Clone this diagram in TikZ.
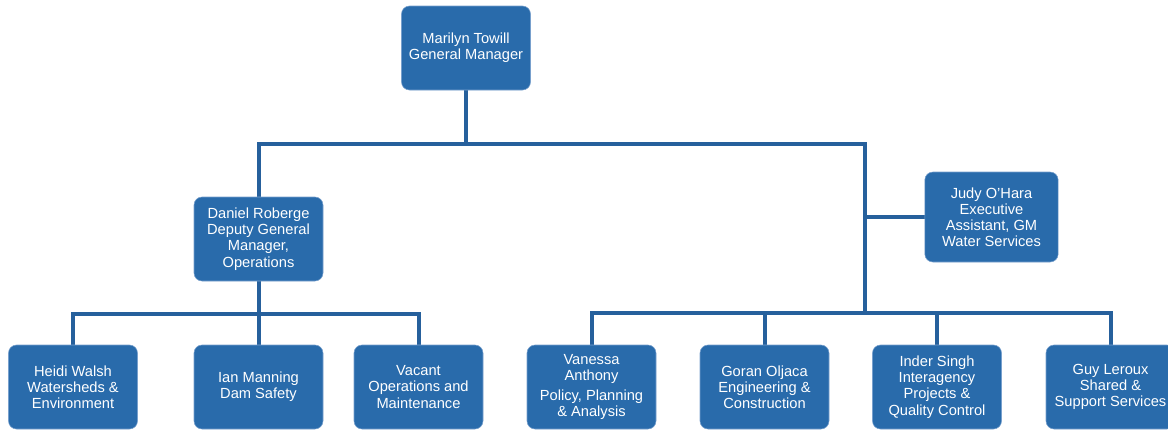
\documentclass[tikz,border=0pt]{standalone}
\usepackage{fontspec}
\setmainfont{Liberation Sans}
\usepackage{xcolor}
\usepackage{tikz}
\usetikzlibrary{positioning,backgrounds}
\definecolor{boxblue}{RGB}{41,107,171}
\definecolor{boxedge}{RGB}{120,160,205}
\definecolor{linkblue}{RGB}{38,96,156}

\begin{document}
\begin{tikzpicture}[
  x=0.75pt, y=-0.75pt,
  person/.style={fill=boxblue, draw=boxedge, line width=0.4pt, rounded corners=6pt, minimum width=96.75pt, minimum height=63pt, align=center, text=white, font=\fontsize{11}{12.1}\selectfont, inner sep=1pt},
  link/.style={linkblue, line width=3pt}
]
\useasboundingbox (0,0) rectangle (1168,430);

\node[person] (gm) at (466,48) {Marilyn Towill\\General Manager};
\node[person] (dep) at (258.5,239) {Daniel Roberge\\Deputy General\\Manager,\\Operations};
\node[person, minimum width=100pt, minimum height=67.5pt] (ea) at (991.5,217) {Judy O'Hara\\Executive\\Assistant, GM\\Water Services};

\node[person] (wat) at (73,387) {Heidi Walsh\\Watersheds \&\\Environment};
\node[person] (dam) at (258.5,387) {Ian Manning\\Dam Safety};
\node[person] (ops) at (418.5,387) {Vacant\\Operations and\\Maintenance};
\node[person] (pol) at (591.5,387) {Vanessa\\Anthony\\[3pt]Policy, Planning\\\& Analysis};
\node[person] (eng) at (764.5,387) {Goran Oljaca\\Engineering \&\\Construction};
\node[person] (iqc) at (937,387) {Inder Singh\\Interagency\\Projects \&\\Quality Control};
\node[person] (sss) at (1110.5,387) {Guy Leroux\\Shared \&\\Support Services};

\coordinate (topbar) at (466,144);
\coordinate (trunk) at (865,313);
\coordinate (opsbar) at (258.5,314);

\begin{scope}[on background layer]
\draw[link] (gm.south) -- (topbar) -| (dep.north);
\draw[link] (topbar) -| (trunk);
\draw[link] (ea.west) -- (ea.west -| trunk);
\draw[link] (dep.south) -- (dam.north);
\draw[link] (opsbar) -| (wat.north);
\draw[link] (opsbar) -| (ops.north);
\draw[link] (trunk) -| (pol.north);
\draw[link] (trunk) -| (eng.north);
\draw[link] (trunk) -| (iqc.north);
\draw[link] (trunk) -| (sss.north);
\end{scope}

\end{tikzpicture}
\end{document}
